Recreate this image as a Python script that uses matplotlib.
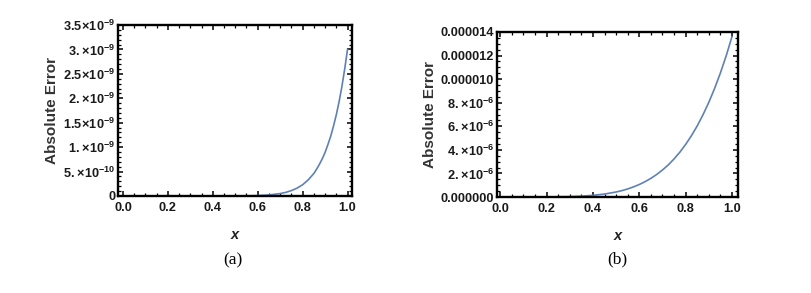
import numpy as np
import matplotlib
matplotlib.use("Agg")
import matplotlib.pyplot as plt
from matplotlib.ticker import FixedLocator, MultipleLocator

plt.rcParams['font.family'] = ['Liberation Sans', 'DejaVu Sans']
plt.rcParams['mathtext.fontset'] = 'custom'
plt.rcParams['mathtext.rm'] = 'Liberation Sans:bold'
plt.rcParams['mathtext.bf'] = 'Liberation Sans:bold'
plt.rcParams['mathtext.it'] = 'Liberation Sans:bold:italic'

# данные
# (a) абсолютная погрешность, единицы 1e-9
xa = [0.0, 0.1, 0.2, 0.3, 0.4, 0.5, 0.55, 0.6, 0.65, 0.7, 0.725, 0.75, 0.775,
      0.8, 0.825, 0.85, 0.8625, 0.875, 0.8875, 0.9, 0.9125, 0.925, 0.9375,
      0.95, 0.9625, 0.975, 0.9875, 1.0]
ya = [0.0, 0.0, 0.0, 0.0, 0.0, 0.001, 0.003, 0.008, 0.021, 0.050, 0.074, 0.11,
      0.16, 0.23, 0.33, 0.46, 0.55, 0.65, 0.76, 0.89, 1.05, 1.22, 1.43,
      1.66, 1.93, 2.24, 2.60, 3.0]

# (b) абсолютная погрешность, единицы 1e-6
xb = [0.0, 0.1, 0.2, 0.3, 0.35, 0.4, 0.45, 0.5, 0.525, 0.55, 0.575, 0.6,
      0.625, 0.65, 0.675, 0.7, 0.725, 0.75, 0.775, 0.8, 0.825, 0.85, 0.875,
      0.9, 0.925, 0.95, 0.975, 1.0]
yb = [0.0, 0.0001, 0.004, 0.033, 0.071, 0.139, 0.25, 0.425, 0.54, 0.685,
      0.857, 1.06, 1.30, 1.58, 1.91, 2.29, 2.72, 3.23, 3.80, 4.46, 5.20,
      6.03, 6.98, 8.03, 9.21, 10.52, 11.98, 13.6]

ticks_a = [0, 0.5e-9, 1.0e-9, 1.5e-9, 2.0e-9, 2.5e-9, 3.0e-9, 3.5e-9]
labels_a = ['0', r'$\mathbf{5.\!\times\!10^{-10}}$', r'$\mathbf{1.\!\times\!10^{-9}}$',
            r'$\mathbf{1.5\!\times\!10^{-9}}$', r'$\mathbf{2.\!\times\!10^{-9}}$',
            r'$\mathbf{2.5\!\times\!10^{-9}}$', r'$\mathbf{3.\!\times\!10^{-9}}$',
            r'$\mathbf{3.5\!\times\!10^{-9}}$']

ticks_b = [0, 2e-6, 4e-6, 6e-6, 8e-6, 10e-6, 12e-6, 14e-6]
labels_b = ['0.000000', r'$\mathbf{2.\!\times\!10^{-6}}$', r'$\mathbf{4.\!\times\!10^{-6}}$',
            r'$\mathbf{6.\!\times\!10^{-6}}$', r'$\mathbf{8.\!\times\!10^{-6}}$',
            '0.000010', '0.000012', '0.000014']

line_color = '#5E81B5'

fig = plt.figure(figsize=(8.12, 2.93), dpi=100)
ax1 = fig.add_axes([118/812, 1-196/293, 234/812, 171/293])
ax2 = fig.add_axes([497/812, 1-197/293, 241/812, 165/293])


def style(ax, yticks, ylabels, yminor, xlim):
    ax.set_xlim(*xlim)
    ax.set_ylim(yticks[0], yticks[-1])
    ax.xaxis.set_major_locator(FixedLocator([0, 0.2, 0.4, 0.6, 0.8, 1.0]))
    ax.set_xticklabels(['0.0', '0.2', '0.4', '0.6', '0.8', '1.0'])
    ax.xaxis.set_minor_locator(MultipleLocator(0.05))
    ax.yaxis.set_major_locator(FixedLocator(yticks))
    ax.set_yticklabels(ylabels)
    ax.yaxis.set_minor_locator(MultipleLocator(yminor))
    ax.tick_params(which='both', direction='in', top=True, right=True,
                   colors='black', labelsize=9.2, pad=2)
    ax.tick_params(axis='x', which='major', pad=4.5)
    ax.tick_params(which='major', length=3.5, width=1.1)
    ax.tick_params(which='minor', length=2, width=0.9)
    for lab in ax.get_xticklabels() + ax.get_yticklabels():
        lab.set_fontweight('bold')
        lab.set_color('#1a1a1a')
    for s in ax.spines.values():
        s.set_linewidth(1.7)
        s.set_color('black')
    ax.set_xlabel('x', fontsize=10.5, fontweight='bold', fontstyle='italic',
                  color='#222222', labelpad=10)
    ax.set_ylabel('Absolute Error', fontsize=11, fontweight='bold',
                  color='#333333', labelpad=3)


ax1.plot(xa, np.array(ya) * 1e-9, color=line_color, linewidth=1.2)
style(ax1, ticks_a, labels_a, 1e-10, (-0.022, 1.02))

ax2.plot(xb, np.array(yb) * 1e-6, color=line_color, linewidth=1.2)
style(ax2, ticks_b, labels_b, 5e-7, (-0.014, 1.026))

fig.text(233/812, 1-260/293, '(a)', family='Liberation Serif', fontsize=12.5,
         ha='center', va='center')
fig.text(617/812, 1-259/293, '(b)', family='Liberation Serif', fontsize=12.5,
         ha='center', va='center')

fig.savefig('out.png', dpi=100)
